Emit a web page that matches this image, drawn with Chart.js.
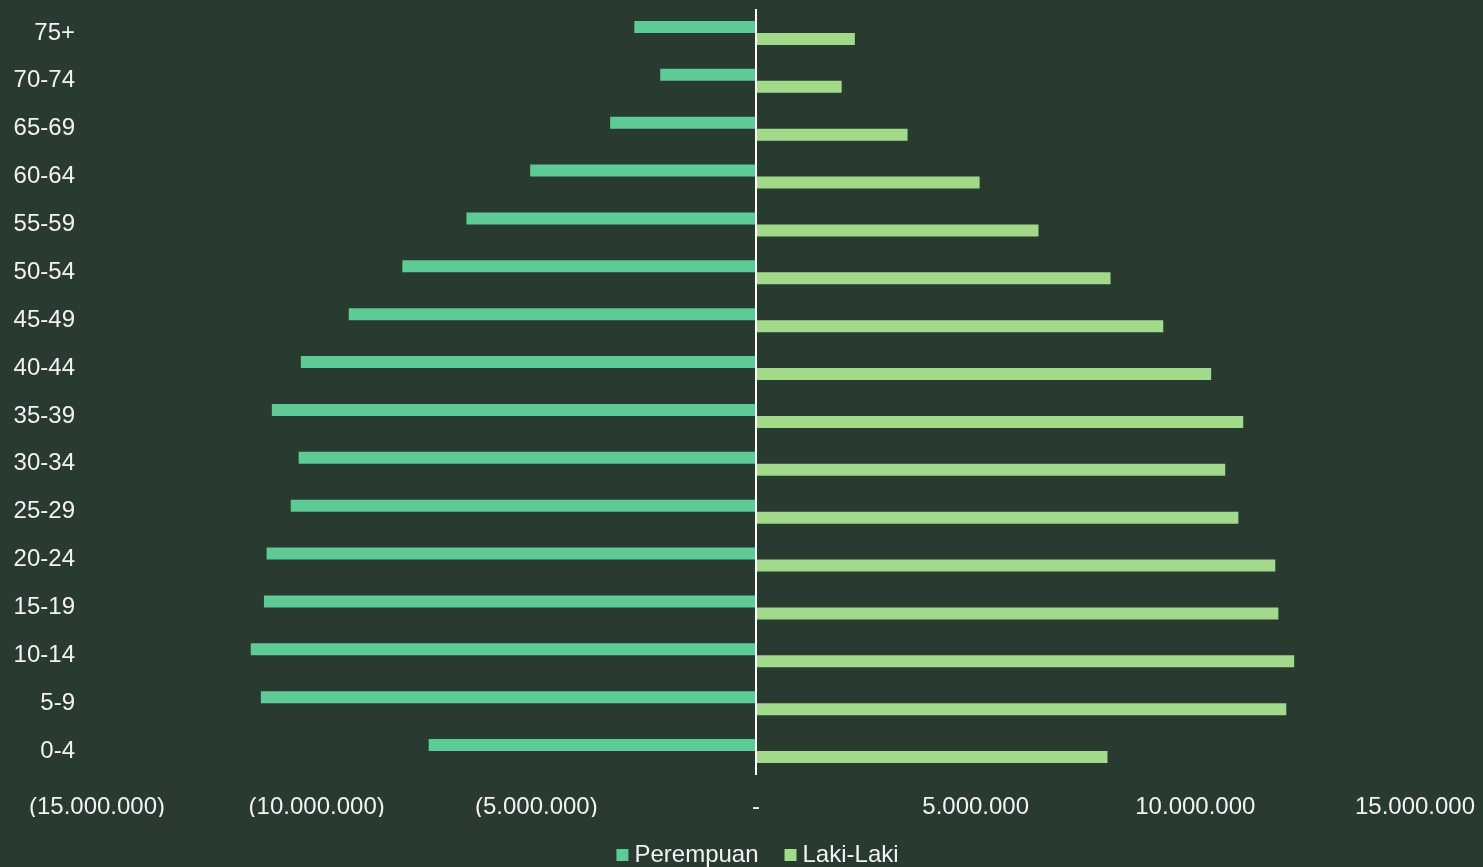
<!DOCTYPE html>
<html>
<head>
<meta charset="utf-8">
<script src="https://cdn.jsdelivr.net/npm/chart.js@4"></script>
<style>
  html, body { margin: 0; padding: 0; background: #293a31; }
  #wrap { width: 1483px; height: 867px; position: relative; }
</style>
</head>
<body>
<div id="wrap"><canvas id="c"></canvas></div>
<script>
const categories = ['75+','70-74','65-69','60-64','55-59','50-54','45-49','40-44','35-39','30-34','25-29','20-24','15-19','10-14','5-9','0-4'];
const perempuan = [-2770000,-2180000,-3320000,-5140000,-6590000,-8050000,-9270000,-10360000,-11020000,-10410000,-10590000,-11140000,-11200000,-11500000,-11270000,-7450000];
const lakiLaki = [2250000,1950000,3450000,5090000,6430000,8070000,9270000,10360000,11090000,10680000,10980000,11820000,11890000,12250000,12070000,8000000];
const xTicks = [-15000000,-10000000,-5000000,0,5000000,10000000,15000000];

const FONT = 'Liberation Sans, Arial, sans-serif';
const TEXT = '#f2f2f2';

function fmt(v) {
  const s = Math.abs(v).toString().replace(/\B(?=(\d{3})+(?!\d))/g, '.');
  if (v === 0) return '-';
  return v < 0 ? '(' + s + ')' : s;
}

const bgPlugin = {
  id: 'bg',
  beforeDraw(chart) {
    const ctx = chart.ctx;
    ctx.save();
    ctx.fillStyle = '#293a31';
    ctx.fillRect(0, 0, chart.width, chart.height);
    ctx.restore();
  }
};

const legendPlugin = {
  id: 'customLegend',
  afterDraw(chart) {
    const ctx = chart.ctx;
    const ds = chart.data.datasets;
    ctx.save();
    ctx.font = '24px ' + FONT;
    ctx.textBaseline = 'middle';
    ctx.textAlign = 'left';
    const box = 12, gap = 6, spacing = 26;
    const widths = ds.map(d => ctx.measureText(d.label).width);
    let total = 0;
    widths.forEach((w, i) => { total += box + gap + w + (i < widths.length - 1 ? spacing : 0); });
    const cx = (chart.chartArea.left + chart.chartArea.right) / 2 + 1.5;
    let x = cx - total / 2;
    const yc = 855;
    ds.forEach((d, i) => {
      ctx.fillStyle = d.backgroundColor;
      ctx.fillRect(x, yc - 6, box, box);
      x += box + gap;
      ctx.fillStyle = TEXT;
      ctx.fillText(d.label, x, yc);
      x += widths[i] + spacing;
    });
    ctx.restore();
  }
};

new Chart(document.getElementById('c'), {
  type: 'bar',
  data: {
    labels: categories,
    datasets: [
      { label: 'Perempuan', data: perempuan, backgroundColor: '#5eca96', categoryPercentage: 0.5, barPercentage: 1.0 },
      { label: 'Laki-Laki', data: lakiLaki, backgroundColor: '#a2d98b', categoryPercentage: 0.5, barPercentage: 1.0 }
    ]
  },
  options: {
    indexAxis: 'y',
    responsive: true,
    maintainAspectRatio: false,
    animation: false,
    layout: { padding: { top: 9, left: 0, right: 68, bottom: 50 } },
    scales: {
      x: {
        min: -15000000,
        max: 15000000,
        afterBuildTicks(scale) { scale.ticks = xTicks.map(v => ({ value: v })); },
        afterFit(scale) {
          scale.height = 42;
          scale.paddingLeft = 0; scale.paddingRight = 0;
          scale.paddingTop = 0; scale.paddingBottom = 0;
        },
        ticks: {
          color: TEXT,
          font: { family: FONT, size: 24 },
          padding: 18,
          maxRotation: 0,
          autoSkip: false,
          callback: (v) => fmt(v)
        },
        grid: {
          drawTicks: false,
          z: 1,
          lineWidth: 2,
          color: (ctx) => (ctx.tick && ctx.tick.value === 0) ? '#ffffff' : 'rgba(0,0,0,0)'
        },
        border: { display: false }
      },
      y: {
        afterFit(scale) {
          scale.width = 97;
          scale.paddingLeft = 0; scale.paddingRight = 0;
          scale.paddingTop = 0; scale.paddingBottom = 0;
        },
        ticks: {
          color: TEXT,
          font: { family: FONT, size: 24 },
          padding: 22,
          autoSkip: false
        },
        grid: { display: false, drawTicks: false },
        border: { display: false }
      }
    },
    plugins: {
      legend: { display: false },
      tooltip: { enabled: false }
    }
  },
  plugins: [bgPlugin, legendPlugin]
});
</script>
</body>
</html>
